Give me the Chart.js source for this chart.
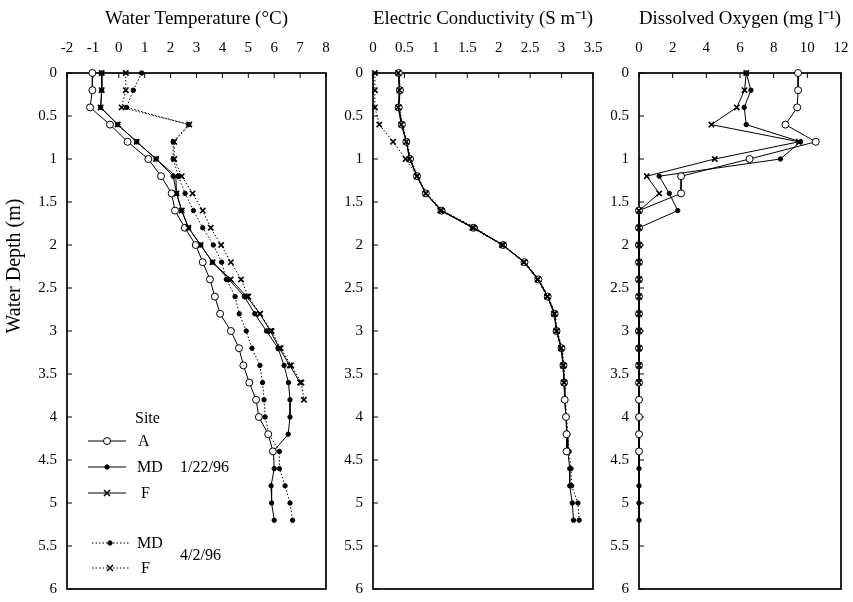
<!DOCTYPE html>
<html><head><meta charset="utf-8">
<script src="https://cdn.jsdelivr.net/npm/chart.js@4/dist/chart.umd.min.js"></script>
<style>
html,body{margin:0;padding:0;background:#fff;}
#wrap{position:relative;width:853px;height:602px;overflow:hidden;font-family:"Liberation Serif","Times New Roman",serif;}
canvas{position:absolute;top:0;}
.lg{position:absolute;font-size:16px;line-height:16px;color:#000;white-space:nowrap;}
#lsvg{position:absolute;left:0;top:0;pointer-events:none;}
#ytitle{position:absolute;left:13px;top:266px;font-size:20px;line-height:20px;white-space:nowrap;transform:translate(-50%,-50%) rotate(-90deg);}
</style></head><body>
<div id="wrap">
<canvas id="c1" width="340" height="602" style="left:0px"></canvas>
<canvas id="c2" width="285" height="602" style="left:320px"></canvas>
<canvas id="c3" width="268" height="602" style="left:585px"></canvas>
<svg id="lsvg" width="853" height="602"></svg>
<div id="ytitle"></div>
</div>
<script>
// ---------------- data ----------------
const depths = [0,0.2,0.4,0.6,0.8,1.0,1.2,1.4,1.6,1.8,2.0,2.2,2.4,2.6,2.8,3.0,3.2,3.4,3.6,3.8,4.0,4.2,4.4,4.6,4.8,5.0,5.2];

const seriesNames = ['A','MD','F','MD','F'];
const dates = ['1/22/96','4/2/96'];

// Water temperature (°C)
const tempA   = [-1.02,-1.02,-1.11,-0.34,0.34,1.14,1.63,2.04,2.17,2.55,2.97,3.24,3.52,3.71,3.91,4.33,4.64,4.81,5.04,5.30,5.41,5.77,5.95];
const tempMD1 = [-0.66,-0.66,-0.70,-0.04,0.69,1.44,2.10,2.23,2.43,2.69,3.16,3.62,4.25,4.85,5.25,5.70,6.15,6.38,6.55,6.61,6.61,6.54,5.97,6.00,5.88,5.90,6.00];
const tempF1  = [-0.66,-0.66,-0.70,-0.04,0.69,1.44,2.20,2.23,2.43,2.69,3.16,3.62,4.32,4.94,5.45,5.85,6.20,6.60,7.00];
const tempMD2 = [0.88,0.56,0.30,2.70,2.10,2.10,2.30,2.56,2.88,3.24,3.65,3.97,4.15,4.49,4.65,4.92,5.14,5.45,5.55,5.61,5.65,5.80,6.20,6.20,6.42,6.61,6.71];
const tempF2  = [0.27,0.27,0.11,2.72,2.14,2.14,2.43,2.85,3.24,3.55,3.95,4.33,4.72,5.00,5.45,5.90,6.25,6.65,7.05,7.15];

// Electric conductivity (S m-1)
const ecA   = [0.41,0.43,0.41,0.46,0.53,0.59,0.70,0.84,1.09,1.60,2.07,2.41,2.63,2.78,2.89,2.92,3.00,3.03,3.04,3.05,3.07,3.08,3.08];
const ecMD1 = [0.41,0.42,0.41,0.46,0.53,0.59,0.70,0.84,1.08,1.59,2.06,2.41,2.63,2.78,2.88,2.92,3.00,3.02,3.04,3.05,3.07,3.09,3.10,3.13,3.13,3.17,3.19];
const ecF1  = [0.40,0.42,0.40,0.45,0.53,0.58,0.70,0.84,1.09,1.60,2.07,2.40,2.62,2.78,2.89,2.92,2.99,3.03,3.04];
const ecMD2 = [0.42,0.43,0.42,0.47,0.54,0.60,0.71,0.85,1.11,1.63,2.06,2.42,2.64,2.79,2.90,2.93,3.01,3.04,3.05,3.06,3.08,3.10,3.12,3.15,3.16,3.26,3.28];
const ecF2  = [0.03,0.03,0.03,0.10,0.32,0.52,0.70,0.84,1.07,1.58,2.05,2.40,2.62,2.77,2.88,2.92,2.99,3.02,3.04];

// Dissolved oxygen (mg l-1)
const doA   = [9.45,9.45,9.40,8.70,10.50,6.57,2.50,2.50,0,0,0,0,0,0,0,0,0,0,0,0,0,0,0];
const doMD1 = [6.37,6.65,6.25,6.37,9.60,8.40,1.20,1.80,2.30,0,0,0,0,0,0,0,0,0,0,0,0,0,0,0,0,0,0];
const doF1  = [6.37,6.27,5.81,4.30,9.50,4.50,0.46,1.20,0,0,0,0,0,0,0,0,0,0,0];

// axis tick labels
const depthTicks = ['0','0.5','1','1.5','2','2.5','3','3.5','4','4.5','5','5.5','6'];
const tempTicks  = ['-2','-1','0','1','2','3','4','5','6','7','8'];
const ecTicks    = ['0','0.5','1','1.5','2','2.5','3','3.5'];
const doTicks    = ['0','2','4','6','8','10','12'];

// ---------------- styles ----------------
const FONT = '"Liberation Serif","Times New Roman",serif';
Chart.defaults.color = '#000';
Chart.defaults.font.family = FONT;

const sty = {
  A:   {pointStyle:'circle', pointRadius:3.5, pointBackgroundColor:'#fff', pointBorderWidth:1, borderDash:[], order:1},
  MD1: {pointStyle:'circle', pointRadius:2.2, pointBackgroundColor:'#000', pointBorderWidth:1, borderDash:[], order:2},
  F1:  {pointStyle:'crossRot', pointRadius:3.8, pointBackgroundColor:'#000', pointBorderWidth:1.6, borderDash:[], order:0},
  MD2: {pointStyle:'circle', pointRadius:2.2, pointBackgroundColor:'#000', pointBorderWidth:1, borderDash:[1.5,2], order:3},
  F2:  {pointStyle:'crossRot', pointRadius:3.8, pointBackgroundColor:'#000', pointBorderWidth:1.6, borderDash:[1.5,2], order:0}
};

function ds(key, vals){
  return Object.assign({
    data: vals.map((v,i)=>({x:v, y:depths[i]})),
    borderColor:'#000', pointBorderColor:'#000', borderWidth:1,
    showLine:true, tension:0, fill:false, clip:false
  }, sty[key]);
}

const framePlugin = {
  id:'frame',
  beforeDatasetsDraw(chart){
    const {ctx, chartArea:{left,right,top,bottom}, scales:{x,y}} = chart;
    ctx.save();
    ctx.strokeStyle = '#000';
    ctx.lineWidth = 1;
    x.ticks.forEach(t=>{ const p=x.getPixelForValue(t.value); ctx.beginPath(); ctx.moveTo(p,top); ctx.lineTo(p,top+5); ctx.stroke(); });
    y.ticks.forEach(t=>{ const p=y.getPixelForValue(t.value); ctx.beginPath(); ctx.moveTo(left,p); ctx.lineTo(left+5,p); ctx.stroke(); });
    ctx.lineWidth = 1.7;
    ctx.strokeRect(left, top, right-left, bottom-top);
    ctx.restore();
  }
};

function makeChart(id, datasets, xr, xTickLabels, xTitle, yWidth, rightPad){
  const xmin = xr[0], xmax = xr[1], xstep = xr[2];
  new Chart(document.getElementById(id), {
    type:'scatter',
    data:{datasets},
    plugins:[framePlugin],
    options:{
      responsive:false, animation:false, devicePixelRatio:1,
      layout:{padding:{left:0,right:rightPad,top:0,bottom:13}},
      plugins:{legend:{display:false}, tooltip:{enabled:false}},
      scales:{
        x:{type:'linear', position:'top', min:xmin, max:xmax,
           grid:{display:false, drawTicks:false}, border:{display:false},
           ticks:{stepSize:xstep, padding:16, font:{size:15,family:FONT}, maxRotation:0, autoSkip:false,
                  callback:(v)=>{ const i=Math.round((v-xmin)/xstep); return xTickLabels[i]; }},
           title:{display:true, text:xTitle, font:{size:19,family:FONT}, padding:{top:8,bottom:0}},
           afterFit:(s)=>{ s.height = 73; s.paddingLeft = 0; s.paddingRight = 0; }},
        y:{type:'linear', position:'left', reverse:true, min:0, max:6,
           grid:{display:false, drawTicks:false}, border:{display:false},
           ticks:{stepSize:0.5, padding:10, font:{size:15,family:FONT}, autoSkip:false,
                  callback:(v)=>depthTicks[Math.round(v/0.5)]},
           afterFit:(s)=>{ s.width = yWidth; s.paddingTop = 0; s.paddingBottom = 0; }}
      }
    }
  });
}

makeChart('c1', [ds('F1',tempF1), ds('F2',tempF2), ds('A',tempA), ds('MD1',tempMD1), ds('MD2',tempMD2)],
  [-2,8,1], tempTicks, 'Water Temperature (°C)', 67, 14);
makeChart('c2', [ds('F1',ecF1), ds('F2',ecF2), ds('A',ecA), ds('MD1',ecMD1), ds('MD2',ecMD2)],
  [0,3.5,0.5], ecTicks, 'Electric Conductivity (S m\u207B\u00B9)', 53, 12);
makeChart('c3', [ds('F1',doF1), ds('A',doA), ds('MD1',doMD1)],
  [0,12,2], doTicks, 'Dissolved Oxygen (mg l\u207B\u00B9)', 54, 12);

document.getElementById('ytitle').textContent = 'Water Depth (m)';

// ---------------- legend (HTML / SVG overlay) ----------------
const wrap = document.getElementById('wrap');
const svg = document.getElementById('lsvg');
const NS = 'http://www.w3.org/2000/svg';
function text(t, x, y){ const d=document.createElement('div'); d.className='lg'; d.textContent=t; d.style.left=x+'px'; d.style.top=(y-8)+'px'; wrap.appendChild(d); }
function el(tag, attrs){ const e=document.createElementNS(NS,tag); for(const k in attrs) e.setAttribute(k,attrs[k]); svg.appendChild(e); return e; }
const legendRows = [
  {key:'A',   name:seriesNames[0], y:441, x0:88, x1:126, mx:107, tx:138},
  {key:'MD1', name:seriesNames[1], y:467, x0:88, x1:126, mx:107, tx:137},
  {key:'F1',  name:seriesNames[2], y:493, x0:88, x1:126, mx:107, tx:141},
  {key:'MD2', name:seriesNames[3], y:543, x0:92, x1:130, mx:110, tx:137},
  {key:'F2',  name:seriesNames[4], y:568, x0:92, x1:130, mx:110, tx:141}
];
text('Site', 135, 418);
legendRows.forEach(r=>{
  const s = sty[r.key];
  const ln = el('line',{x1:r.x0,y1:r.y,x2:r.x1,y2:r.y,stroke:'#000','stroke-width':1});
  if (s.borderDash.length) ln.setAttribute('stroke-dasharray', s.borderDash.join(' '));
  if (s.pointStyle==='circle') {
    el('circle',{cx:r.mx,cy:r.y,r:s.pointRadius,fill:s.pointBackgroundColor,stroke:'#000','stroke-width':1});
  } else {
    const d = 3;
    el('path',{d:`M${r.mx-d},${r.y-d}L${r.mx+d},${r.y+d}M${r.mx-d},${r.y+d}L${r.mx+d},${r.y-d}`,stroke:'#000','stroke-width':1.6});
  }
  text(r.name, r.tx, r.y);
});
text(dates[0], 180, 467);
text(dates[1], 180, 555);
</script>
</body></html>
